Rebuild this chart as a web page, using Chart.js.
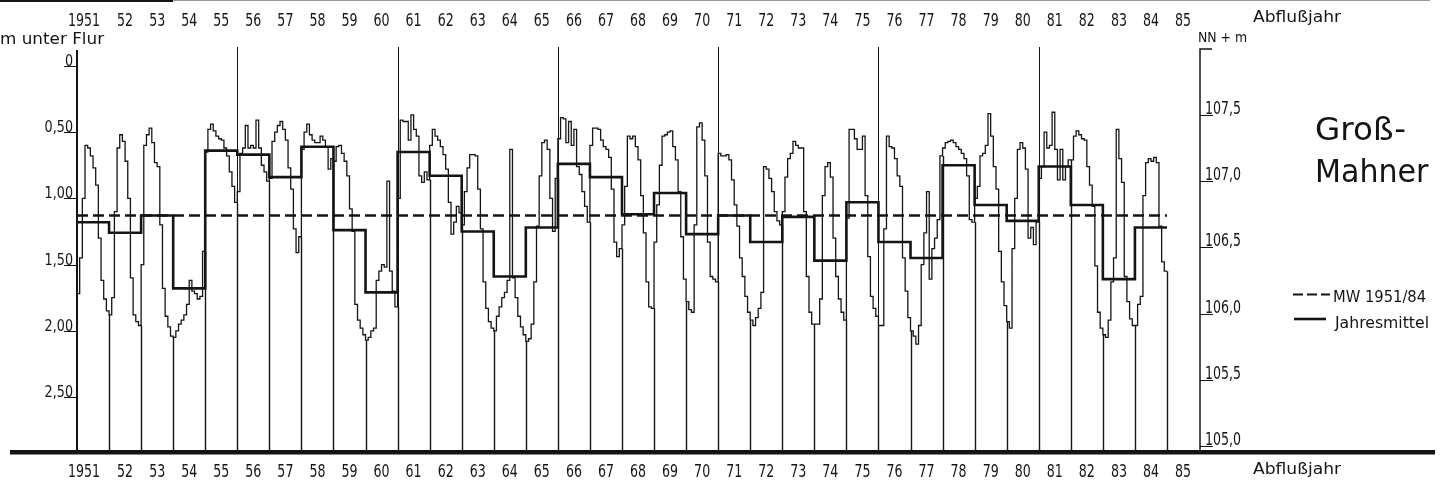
<!DOCTYPE html>
<html>
<head>
<meta charset="utf-8">
<script src="https://cdn.jsdelivr.net/npm/chart.js@4/dist/chart.umd.min.js"></script>
<style>
html, body { margin: 0; padding: 0; background: #fff; }
canvas { display: block; }
</style>
</head>
<body>
<canvas id="hydro" width="1447" height="484"></canvas>
<script>
// Abflussjahre (Nov - Okt)
var years = [1951, 1952, 1953, 1954, 1955, 1956, 1957, 1958, 1959, 1960,
             1961, 1962, 1963, 1964, 1965, 1966, 1967, 1968, 1969, 1970,
             1971, 1972, 1973, 1974, 1975, 1976, 1977, 1978, 1979, 1980,
             1981, 1982, 1983, 1984];
var yearLabels = ["1951", "52", "53", "54", "55", "56", "57", "58", "59", "60",
                  "61", "62", "63", "64", "65", "66", "67", "68", "69", "70",
                  "71", "72", "73", "74", "75", "76", "77", "78", "79", "80",
                  "81", "82", "83", "84", "85"];

// Grundwasserstand, m unter Flur, Monatswerte Nov..Okt
var monthly = [
  1.72, 1.45, 1.00, 0.60, 0.62, 0.68, 0.77, 0.90, 1.30, 1.62, 1.76, 1.85, // 1951
  1.88, 1.75, 1.10, 0.62, 0.52, 0.57, 0.72, 1.00, 1.60, 1.88, 1.93, 1.96, // 1952
  1.50, 0.60, 0.52, 0.47, 0.58, 0.73, 0.76, 1.20, 1.68, 1.89, 1.97, 2.04, // 1953
  2.05, 2.00, 1.95, 1.92, 1.88, 1.80, 1.62, 1.70, 1.72, 1.76, 1.74, 1.40, // 1954
  0.65, 0.48, 0.44, 0.49, 0.53, 0.55, 0.56, 0.62, 0.68, 0.80, 0.91, 1.03, // 1955
  0.95, 0.66, 0.62, 0.45, 0.62, 0.60, 0.62, 0.41, 0.62, 0.75, 0.80, 0.87, // 1956
  0.85, 0.57, 0.50, 0.45, 0.42, 0.48, 0.56, 0.77, 0.93, 1.23, 1.41, 1.29, // 1957
  0.63, 0.50, 0.44, 0.52, 0.56, 0.58, 0.58, 0.53, 0.56, 0.61, 0.78, 0.70, // 1958
  0.72, 0.61, 0.60, 0.66, 0.72, 0.83, 1.08, 1.25, 1.80, 1.92, 1.98, 2.03, // 1959
  2.07, 2.05, 2.00, 1.98, 1.62, 1.55, 1.50, 1.52, 0.87, 1.55, 1.70, 1.82, // 1960
  1.00, 0.41, 0.42, 0.42, 0.56, 0.37, 0.48, 0.53, 0.83, 0.88, 0.80, 0.86, // 1961
  0.60, 0.48, 0.53, 0.56, 0.61, 0.67, 0.78, 1.03, 1.27, 1.18, 1.06, 1.11, // 1962
  1.20, 0.95, 0.77, 0.67, 0.67, 0.68, 0.93, 1.23, 1.63, 1.83, 1.93, 1.98, // 1963
  2.00, 1.89, 1.82, 1.75, 1.71, 1.62, 0.63, 1.60, 1.75, 1.89, 1.97, 2.03, // 1964
  2.08, 2.06, 1.95, 1.63, 1.21, 0.83, 0.58, 0.56, 0.63, 1.00, 1.25, 0.85, // 1965
  0.55, 0.39, 0.40, 0.58, 0.42, 0.60, 0.48, 0.76, 0.82, 0.95, 1.06, 1.18, // 1966
  0.60, 0.47, 0.47, 0.48, 0.56, 0.61, 0.63, 0.69, 0.93, 1.33, 1.44, 1.38, // 1967
  1.20, 0.91, 0.53, 0.55, 0.53, 0.61, 0.71, 0.98, 1.26, 1.63, 1.82, 1.83, // 1968
  1.33, 1.05, 0.75, 0.53, 0.52, 0.50, 0.49, 0.61, 0.71, 0.95, 1.29, 1.61, // 1969
  1.78, 1.84, 1.86, 1.20, 0.46, 0.43, 0.56, 0.83, 1.33, 1.59, 1.61, 1.63, // 1970
  0.66, 0.68, 0.68, 0.67, 0.71, 0.86, 1.05, 1.21, 1.45, 1.59, 1.74, 1.86, // 1971
  1.92, 1.96, 1.90, 1.83, 1.71, 0.76, 0.78, 0.85, 0.95, 1.10, 1.17, 1.20, // 1972
  1.10, 0.84, 0.70, 0.66, 0.57, 0.60, 0.62, 0.62, 1.10, 1.59, 1.86, 1.95, // 1973
  1.95, 1.95, 1.76, 0.98, 0.76, 0.73, 0.84, 1.30, 1.59, 1.76, 1.86, 1.92, // 1974
  1.15, 0.48, 0.48, 0.55, 0.63, 0.63, 0.53, 0.98, 1.44, 1.74, 1.83, 1.89, // 1975
  1.96, 1.96, 1.23, 0.53, 0.61, 0.62, 0.70, 0.83, 0.91, 1.45, 1.70, 1.90, // 1976
  2.00, 2.04, 2.10, 1.96, 1.50, 1.26, 0.95, 1.61, 1.38, 1.30, 1.16, 0.68, // 1977
  0.62, 0.58, 0.57, 0.56, 0.58, 0.61, 0.63, 0.66, 0.70, 0.83, 1.16, 1.18, // 1978
  1.00, 0.91, 0.68, 0.66, 0.60, 0.36, 0.53, 0.76, 0.93, 1.40, 1.63, 1.81, // 1979
  1.93, 1.98, 1.38, 1.00, 0.63, 0.58, 0.62, 0.78, 1.30, 1.22, 1.35, 1.18, // 1980
  0.85, 0.76, 0.50, 0.62, 0.60, 0.35, 0.63, 0.86, 0.63, 0.86, 0.76, 0.71, // 1981
  0.71, 0.53, 0.49, 0.52, 0.55, 0.56, 0.76, 0.90, 1.06, 1.51, 1.86, 1.98, // 1982
  2.03, 2.05, 1.92, 1.63, 1.45, 0.48, 0.70, 0.88, 1.59, 1.78, 1.91, 1.96, // 1983
  1.96, 1.80, 1.74, 0.98, 0.73, 0.70, 0.72, 0.69, 0.73, 1.21, 1.48, 1.55  // 1984
];

// Jahresmittel, m unter Flur
var annualMean = [1.18, 1.26, 1.13, 1.68, 0.64, 0.67, 0.84, 0.61, 1.24, 1.71,
                  0.65, 0.83, 1.25, 1.59, 1.22, 0.74, 0.84, 1.12, 0.96, 1.27,
                  1.13, 1.33, 1.14, 1.47, 1.03, 1.33, 1.45, 0.75, 1.05, 1.17,
                  0.76, 1.05, 1.61, 1.22];

var mwDepth = 1.13;          // MW 1951/84
var groundLevel = 107.87;    // NN + m
var depthTicks = [0, 0.5, 1.0, 1.5, 2.0, 2.5];
var levelTicks = [105.0, 105.5, 106.0, 106.5, 107.0, 107.5, 108.0];
var fiveYearLines = [1956, 1961, 1966, 1971, 1976, 1981];

var hydroPoints = [];
years.forEach(function (yr, i) {
  for (var m = 0; m < 12; m++) {
    hydroPoints.push({ x: yr + m / 12, y: monthly[i * 12 + m] });
  }
});
hydroPoints.push({ x: 1985, y: monthly[monthly.length - 1] });

var meanPoints = years.map(function (yr, i) { return { x: yr, y: annualMean[i] }; });
meanPoints.push({ x: 1985, y: annualMean[annualMean.length - 1] });

var INK = "#141414";
var FONT = '"DejaVu Sans"';

function txt(ctx, s, x, y, size, sx, align) {
  ctx.save();
  ctx.translate(x, y);
  ctx.scale(sx, 1);
  ctx.font = size + "px " + FONT;
  ctx.textAlign = align || "left";
  ctx.textBaseline = "alphabetic";
  ctx.fillStyle = INK;
  ctx.fillText(s, 0, 0);
  ctx.restore();
}

var frame = {
  id: "frame",
  beforeDatasetsDraw: function (chart) {
    var ctx = chart.ctx, xs = chart.scales.x, ys = chart.scales.y, a = chart.chartArea;
    ctx.save();
    ctx.strokeStyle = INK;
    // Jahresgrenzen: von unten bis zur Ganglinie
    for (var i = 1; i <= years.length; i++) {
      var prev = monthly[i * 12 - 1];
      var next = i < years.length ? monthly[i * 12] : prev;
      var px = Math.round(xs.getPixelForValue(1951 + i)) + 0.5;
      ctx.lineWidth = 1.4;
      ctx.beginPath();
      ctx.moveTo(px, a.bottom);
      ctx.lineTo(px, ys.getPixelForValue(Math.max(prev, next)));
      ctx.stroke();
    }
    // 5-Jahres-Linien, volle Hoehe
    ctx.lineWidth = 1;
    fiveYearLines.forEach(function (yr) {
      var px = Math.round(xs.getPixelForValue(yr)) + 0.5;
      ctx.beginPath();
      ctx.moveTo(px, a.top - 1);
      ctx.lineTo(px, a.bottom);
      ctx.stroke();
    });
    ctx.restore();
  },
  afterDraw: function (chart) {
    var ctx = chart.ctx, xs = chart.scales.x, ys = chart.scales.y, ys2 = chart.scales.y2, a = chart.chartArea;
    ctx.save();
    ctx.strokeStyle = INK;
    ctx.fillStyle = INK;

    // Blattrand oben
    ctx.fillStyle = "#9a9a9a";
    ctx.fillRect(0, 0, 1430, 1);
    ctx.fillStyle = INK;
    ctx.fillRect(0, 0, 173, 2);

    // linke Achse
    ctx.lineWidth = 2;
    ctx.beginPath();
    ctx.moveTo(a.left, a.top + 2);
    ctx.lineTo(a.left, a.bottom);
    ctx.stroke();
    // rechte Achse
    ctx.lineWidth = 1.5;
    ctx.beginPath();
    ctx.moveTo(a.right + 12, a.top + 1);
    ctx.lineTo(a.right, a.top + 1);
    ctx.lineTo(a.right, a.bottom);
    ctx.stroke();
    // Grundlinie
    ctx.fillRect(10, a.bottom - 2, 1425, 4.5);

    // linke Teilung
    ctx.lineWidth = 1;
    depthTicks.forEach(function (v) {
      var py = Math.round(ys.getPixelForValue(v)) + 0.5;
      ctx.beginPath();
      ctx.moveTo(a.left - 13, py);
      ctx.lineTo(a.left, py);
      ctx.stroke();
      var s = v === 0 ? "0" : v.toFixed(2).replace(".", ",");
      txt(ctx, s, a.left - 4, py - 1, 15, 0.85, "right");
    });
    // rechte Teilung
    levelTicks.forEach(function (v) {
      var py = Math.round(ys2.getPixelForValue(v)) + 0.5;
      if (v >= 108) return;
      ctx.beginPath();
      ctx.moveTo(a.right, py);
      ctx.lineTo(a.right + 13, py);
      ctx.stroke();
      txt(ctx, v.toFixed(1).replace(".", ","), a.right + 5, py - 2, 17, 0.74, "left");
    });

    // Jahresbeschriftung oben und unten
    yearLabels.forEach(function (s, i) {
      var px = xs.getPixelForValue(1951 + i + 0.5);
      if (i === 0) px -= 9;
      txt(ctx, s, px, 26, 18, 0.70, "center");
      txt(ctx, s, px, 477, 18, 0.70, "center");
    });
    txt(ctx, "Abflußjahr", 1253, 22, 16, 1.07, "left");
    txt(ctx, "Abflußjahr", 1253, 474, 16, 1.07, "left");

    txt(ctx, "m unter Flur", 0, 44, 15, 1.12, "left");
    txt(ctx, "NN + m", 1198, 42, 14, 0.89, "left");

    txt(ctx, "Groß-", 1315, 140, 32, 1.02, "left");
    txt(ctx, "Mahner", 1315, 182, 32, 0.94, "left");

    // Legende
    ctx.lineWidth = 2;
    ctx.setLineDash([10, 4]);
    ctx.beginPath();
    ctx.moveTo(1293, 294.5);
    ctx.lineTo(1330, 294.5);
    ctx.stroke();
    ctx.setLineDash([]);
    ctx.lineWidth = 2.6;
    ctx.beginPath();
    ctx.moveTo(1294, 319);
    ctx.lineTo(1326, 319);
    ctx.stroke();
    txt(ctx, "MW 1951/84", 1333, 302, 16, 0.92, "left");
    txt(ctx, "Jahresmittel", 1335, 328, 16, 0.98, "left");
    ctx.restore();
  }
};

new Chart("hydro", {
  type: "line",
  data: {
    datasets: [{
      label: "Jahresmittel",
      data: meanPoints,
      borderColor: INK,
      borderWidth: 2.6,
      stepped: "before",
      pointRadius: 0
    }, {
      label: "Ganglinie",
      data: hydroPoints,
      borderColor: INK,
      borderWidth: 1.3,
      stepped: "before",
      pointRadius: 0
    }, {
      label: "MW 1951/84",
      data: [{ x: 1951, y: mwDepth }, { x: 1985, y: mwDepth }],
      borderColor: INK,
      borderWidth: 2.6,
      borderDash: [11, 5],
      pointRadius: 0
    }]
  },
  options: {
    responsive: false,
    animation: false,
    devicePixelRatio: 1,
    layout: { padding: { left: 77, right: 247, top: 48, bottom: 32 } },
    plugins: { legend: { display: false }, tooltip: { enabled: false } },
    scales: {
      x: { type: "linear", display: false, min: 1951, max: 1986.03 },
      y: { display: false, reverse: true, min: -0.135, max: 2.915 },
      y2: { display: false, min: groundLevel - 2.915, max: groundLevel + 0.135 }
    }
  },
  plugins: [frame]
});
</script>
</body>
</html>
